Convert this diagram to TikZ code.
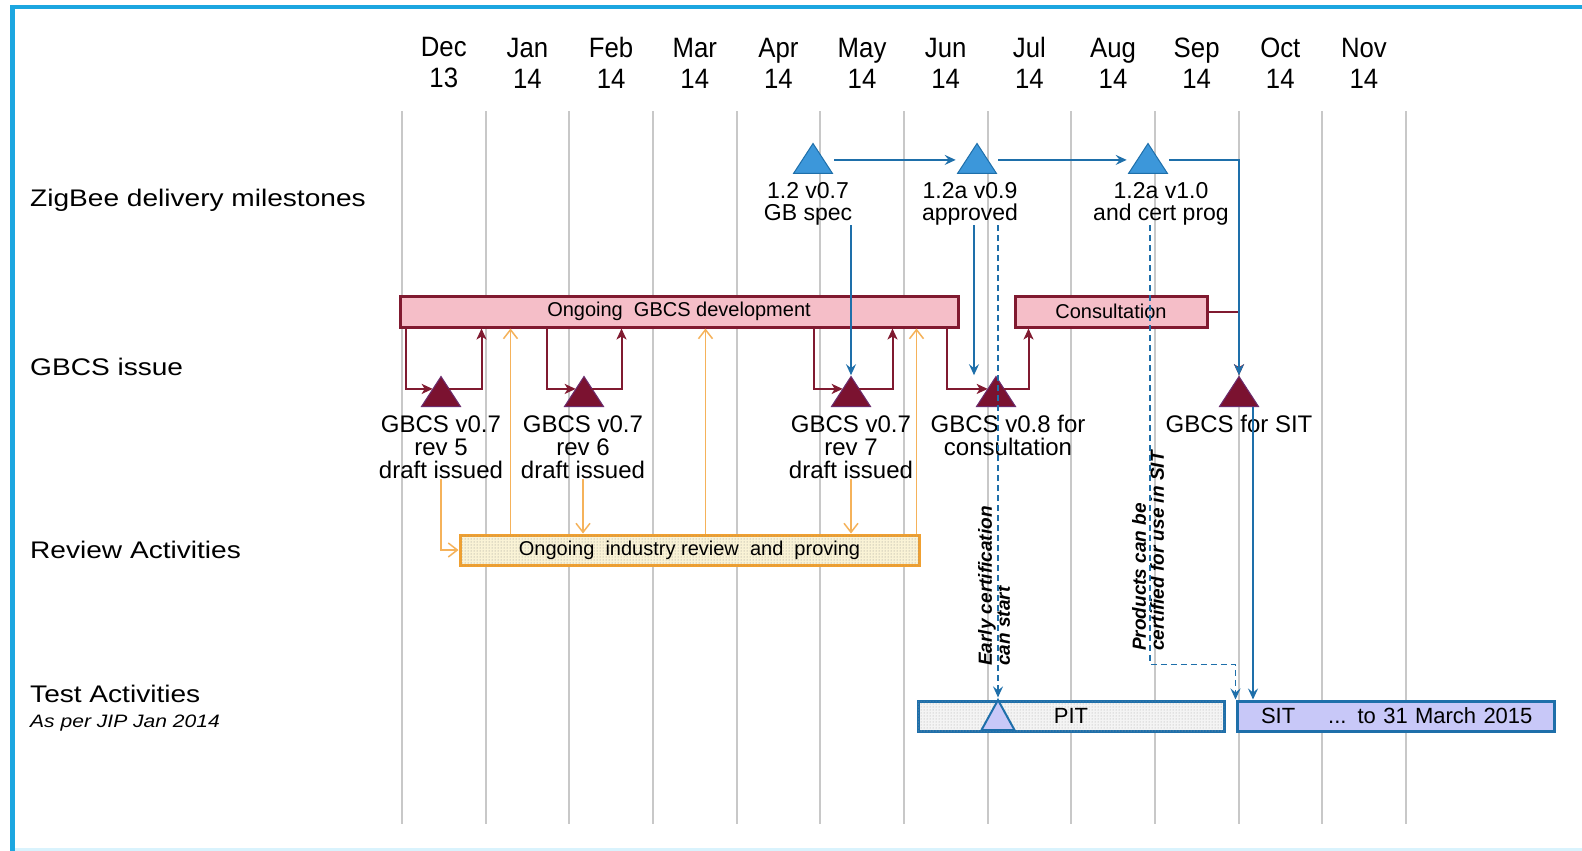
\documentclass[tikz,border=0pt]{standalone}
\usepackage{fontspec}
\setmainfont{Liberation Sans}
\newfontfamily\monthfont[FakeStretch=0.92]{Liberation Sans}
\newfontfamily\rowfont[FakeStretch=1.17]{Liberation Sans}
\usetikzlibrary{shapes.geometric,patterns,arrows.meta}

\definecolor{framecyan}{RGB}{28,166,224}
\definecolor{gridgrey}{RGB}{200,200,200}
\definecolor{zigblue}{RGB}{60,151,218}
\definecolor{zigline}{RGB}{30,111,170}
\definecolor{gbcsred}{RGB}{123,18,48}
\definecolor{gbcsedge}{RGB}{107,44,110}
\definecolor{gbcspink}{RGB}{245,190,200}
\definecolor{gbcsline}{RGB}{128,26,48}
\definecolor{revorange}{RGB}{240,160,48}
\definecolor{revline}{RGB}{245,178,90}
\definecolor{revfill}{RGB}{250,243,214}
\definecolor{sitfill}{RGB}{200,200,248}
\definecolor{pitfill}{RGB}{244,244,244}

\begin{document}
\begin{tikzpicture}[x=1pt,y=-1pt]

%
% Styles
%
\tikzstyle{gridline} = [draw=gridgrey,line width=2pt]
\tikzstyle{month}    = [align=center,inner sep=0pt,font=\monthfont\fontsize{28}{31}\selectfont]
\tikzstyle{row}      = [anchor=west,inner sep=0pt,font=\rowfont\fontsize{24}{26}\selectfont]
\tikzstyle{tri}      = [isosceles triangle,isosceles triangle stretches,shape border rotate=90,
                        minimum width=39pt,minimum height=30pt,inner sep=0pt,anchor=south]
\tikzstyle{zig}      = [tri,fill=zigblue,draw=zigline,line width=1pt]
\tikzstyle{gbcs}     = [tri,fill=gbcsred,draw=gbcsedge,line width=1pt]
\tikzstyle{mtext}    = [align=center,inner sep=0pt,font=\fontsize{23}{21.5}\selectfont]
\tikzstyle{gtext}    = [align=center,inner sep=0pt,font=\fontsize{24}{23}\selectfont]
\tikzstyle{bar}      = [rectangle,minimum height=31pt,line width=3pt,inner sep=0pt,font=\fontsize{20}{22}\selectfont]
\tikzstyle{devbar}   = [bar,draw=gbcsline,fill=gbcspink]
\tikzstyle{revbar}   = [bar,minimum height=30pt,draw=revorange,fill=revfill,postaction={pattern=dots,pattern color=black!45}]
\tikzstyle{testbar}  = [bar,minimum height=30pt,draw=zigline,font=\fontsize{22}{24}\selectfont]
\tikzstyle{note}     = [rotate=90,anchor=west,align=left,inner sep=0pt,font=\bfseries\itshape\fontsize{19}{18}\selectfont]
\tikzstyle{edge}     = [-{Stealth[length=11pt,width=10pt,inset=4pt]},draw=zigline,line width=2pt]
\tikzstyle{edge2}    = [edge,line width=1.6pt,dash pattern=on 6pt off 4pt]
\tikzstyle{redge}    = [-{Stealth[length=11pt,width=10pt,inset=3pt]},draw=gbcsline,line width=2pt]
\tikzstyle{oedge}    = [-{Straight Barb[length=9pt,width=14pt]},draw=revline,line width=1.5pt]

\useasboundingbox (0,0) rectangle (1582,851);
\fill[white] (0,0) rectangle (1582,851);

% frame
\fill[framecyan] (10,5) rectangle (15,851);
\fill[framecyan] (10,5) rectangle (1582,9.5);
\fill[cyan!15] (15,848) rectangle (1582,851);

% months
\foreach \k in {0,...,12}
  \draw[gridline] (402+83.65*\k,111) -- (402+83.65*\k,824);
\foreach \mon/\yr [count=\i from 0] in {Dec/13,Jan/14,Feb/14,Mar/14,Apr/14,May/14,
                                        Jun/14,Jul/14,Aug/14,Sep/14,Oct/14,Nov/14}
  \node[month] (m\i) at (443.8+83.65*\i,63) {\mon\\\yr};

% rows
\node[row] (zigrow)  at (30,200) {ZigBee delivery milestones};
\node[row] (gbcsrow) at (30,367) {GBCS issue};
\node[row] (revrow)  at (30,550) {Review Activities};
\node[row] (testrow) at (30,694) {Test Activities};
\node[row,font=\rowfont\itshape\fontsize{18}{20}\selectfont] (jip) at (30,723) {As per JIP Jan 2014};

% bars
\node[devbar,minimum width=558pt] (dev)  at (679,311.5)  {Ongoing\ \ GBCS development};
\node[devbar,minimum width=192pt] (cons) at (1111,311.5) {Consultation};
\node[revbar,minimum width=459pt] (rev)  at (689.5,550)  {Ongoing\ \ industry review\ \ and\ \ proving};
\node[testbar,minimum width=306pt,fill=pitfill,postaction={pattern=dots,pattern color=black!35}] (pit) at (1071,716) {PIT};
\node[testbar,minimum width=317pt,fill=sitfill,text width=317pt,align=left] (sit) at (1395.5,716)
  {\hspace*{24pt}SIT\hspace{33pt}... to 31 March 2015};
\node[tri,fill=sitfill,draw=zigline,line width=2pt,minimum width=33pt] (pitmark) at (998,731) {};

% ZigBee milestones
\node[zig] (z1) at (813,174)  {};
\node[zig] (z2) at (977,174)  {};
\node[zig] (z3) at (1148,174) {};
\node[mtext] (z1l) at (808,204)  {1.2 v0.7\\GB spec};
\node[mtext] (z2l) at (970,204)  {1.2a v0.9\\approved};
\node[mtext] (z3l) at (1161,204) {1.2a v1.0\\and cert prog};

% GBCS issues
\node[gbcs] (g1) at (441,407)  {};
\node[gbcs] (g2) at (584,407)  {};
\node[gbcs] (g3) at (851,407)  {};
\node[gbcs] (g4) at (996,407)  {};
\node[gbcs] (g5) at (1239,407) {};
\node[gtext] (g1l) at (441,447)  {GBCS v0.7\\rev 5\\draft issued};
\node[gtext] (g2l) at (583,447)  {GBCS v0.7\\rev 6\\draft issued};
\node[gtext] (g3l) at (851,447)  {GBCS v0.7\\rev 7\\draft issued};
\node[gtext] (g4l) at (1008,435) {GBCS v0.8 for\\consultation};
\node[gtext] (g5l) at (1239,424) {GBCS for SIT};

% notes
\node[note] (early) at (994,666) {Early certification\\can start};
\node[note] (prod)  at (1148,651)  {Products can be\\certified for use in SIT};

% GBCS loops
\draw[redge] ([xshift=7pt]dev.south west) |- ([xshift=5pt,yshift=7pt]g1.west);
\draw[redge] ([xshift=-5pt,yshift=7pt]g1.east) -| ([xshift=83pt]dev.south west);
\draw[redge] ([xshift=148pt]dev.south west) |- ([xshift=5pt,yshift=7pt]g2.west);
\draw[redge] ([xshift=-5pt,yshift=7pt]g2.east) -| ([xshift=223pt]dev.south west);
\draw[redge] ([xshift=415pt]dev.south west) |- ([xshift=5pt,yshift=7pt]g3.west);
\draw[redge] ([xshift=-5pt,yshift=7pt]g3.east) -| ([xshift=494pt]dev.south west);
\draw[redge] ([xshift=548pt]dev.south west) |- ([xshift=5pt,yshift=7pt]g4.west);
\draw[redge] ([xshift=-5pt,yshift=7pt]g4.east) -| ([xshift=15pt]cons.south west);
\draw[redge] (cons.east) -| (g5.north);

% review
\draw[oedge] (g1l.south) |- (rev.west);
\draw[oedge] (g2l.south) -- (g2l.south |- rev.north);
\draw[oedge] (g3l.south) -- (g3l.south |- rev.north);
\foreach \dx in {52,247,458} {
  \coordinate (revup) at ([xshift=\dx pt]rev.north west);
  \draw[oedge] (revup) -- (revup |- dev.south);
}

% milestone links
\draw[edge] ([xshift=8pt,yshift=3pt]z1.east) -- ([xshift=-8pt,yshift=3pt]z2.west);
\draw[edge] ([xshift=8pt,yshift=3pt]z2.east) -- ([xshift=-8pt,yshift=3pt]z3.west);
\draw[edge] ([xshift=8pt,yshift=3pt]z3.east) -| (g5.north);
\draw[edge] (z1l.south -| g3.north) -- (g3.north);
\draw[edge] ([xshift=4pt]z2l.south) -- ([xshift=-22pt]g4.north);
\draw[edge2] (z2l.south -| pitmark.north) -- (pitmark.north);
\draw[edge2] ([xshift=-11pt]z3l.south) |- ([yshift=35pt]sit.north west) -- (sit.north west);
\coordinate (g5r) at ([xshift=14pt]g5.south);
\draw[edge] (g5r) -- (g5r |- sit.north);

\end{tikzpicture}
\end{document}
